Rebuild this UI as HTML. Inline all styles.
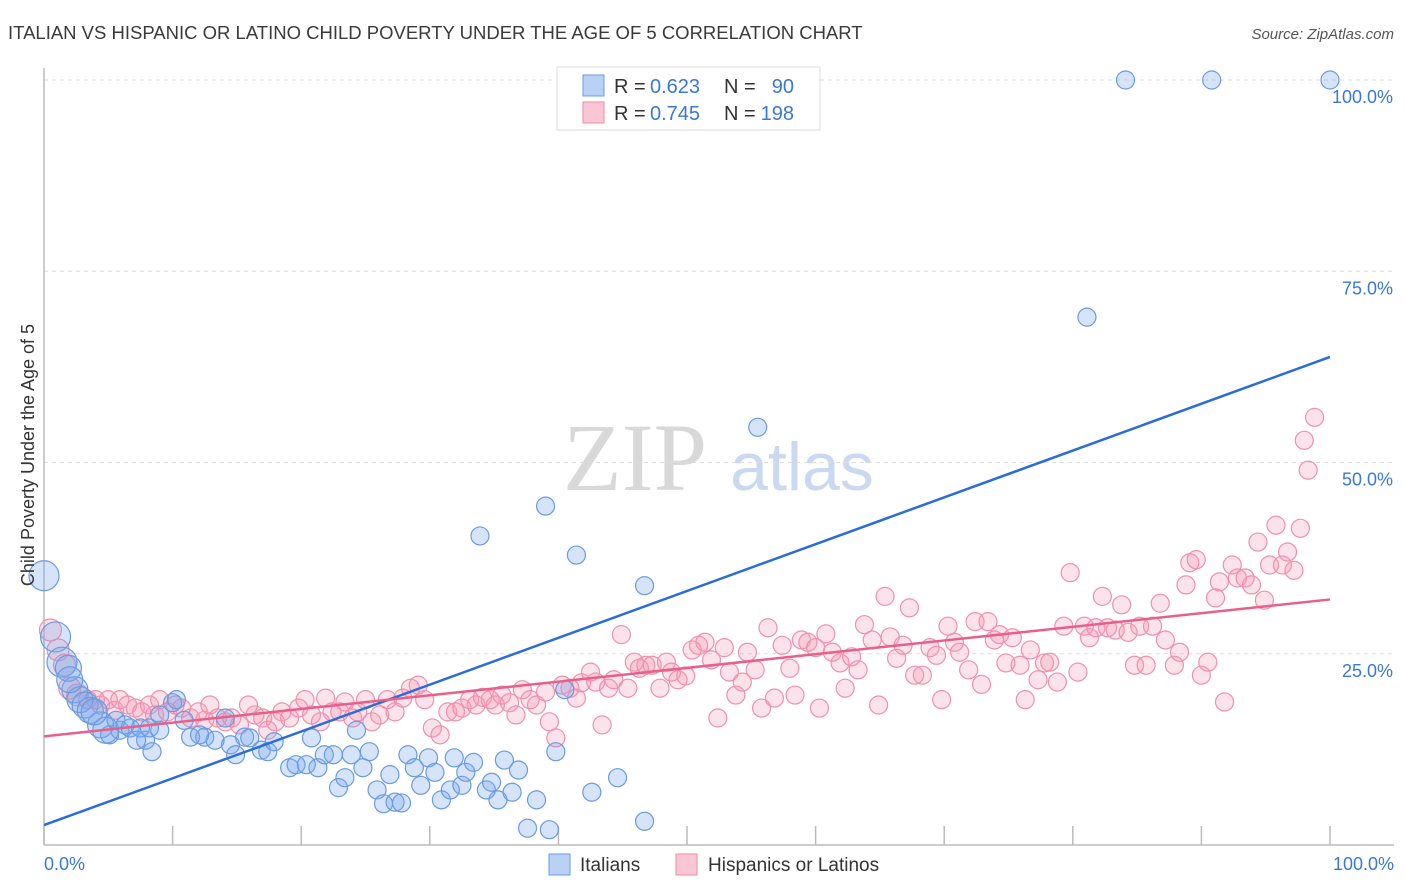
<!DOCTYPE html>
<html><head><meta charset="utf-8"><style>
body{margin:0;background:#fff;font-family:"Liberation Sans",sans-serif}
#c{position:relative;width:1406px;height:892px;overflow:hidden}
</style></head><body>
<div id="c">
<svg id="s" width="1406" height="892">
<text x="8" y="39" font-size="18.5" fill="#3a3a3a">ITALIAN VS HISPANIC OR LATINO CHILD POVERTY UNDER THE AGE OF 5 CORRELATION CHART</text>
<text x="1394" y="39" font-size="15" fill="#555" font-style="italic" text-anchor="end">Source: ZipAtlas.com</text>
<text x="635" y="490" font-size="96" fill="#d8d8d8" font-family="Liberation Serif,serif" text-anchor="middle">ZIP</text>
<text x="802" y="490" font-size="68" fill="#c9d9f2" text-anchor="middle">atlas</text>
<g id="grid"></g><g id="axes"></g><g id="pts"></g><g id="lines"></g>
<text transform="translate(34,455) rotate(-90)" font-size="18" fill="#333" text-anchor="middle">Child Poverty Under the Age of 5</text>
<text x="44" y="870" font-size="18" fill="#3a78d8">0.0%</text>
<text x="1394" y="870" font-size="18" fill="#3a78d8" text-anchor="end">100.0%</text>
<g>
<rect x="557" y="67" width="263" height="63" fill="#fff" stroke="#ddd"/>
<rect x="583" y="75" width="21" height="21" fill="#b9d1f5" stroke="#6a9be0"/>
<rect x="583" y="102" width="21" height="21" fill="#fac6d5" stroke="#f08aaa"/>
<text x="614" y="93" font-size="20" fill="#333">R =</text>
<text x="650" y="93" font-size="20" fill="#3a78d8">0.623</text>
<text x="724" y="93" font-size="20" fill="#333">N =</text>
<text x="794" y="93" font-size="20" fill="#3a78d8" text-anchor="end">90</text>
<text x="614" y="120" font-size="20" fill="#333">R =</text>
<text x="650" y="120" font-size="20" fill="#3a78d8">0.745</text>
<text x="724" y="120" font-size="20" fill="#333">N =</text>
<text x="794" y="120" font-size="20" fill="#3a78d8" text-anchor="end">198</text>
</g>
<g>
<rect x="549" y="854" width="21" height="21" fill="#b9d1f5" stroke="#6a9be0"/>
<text x="580" y="871" font-size="19" fill="#333">Italians</text>
<rect x="676" y="854" width="21" height="21" fill="#fac6d5" stroke="#f08aaa"/>
<text x="708" y="871" font-size="19" fill="#333">Hispanics or Latinos</text>
</g>
</svg></div>
<script>
const yTicks=[25,50,75,100];
const yTickLabels=["25.0%","50.0%","75.0%","100.0%"];
const xTicks=[0,10,20,30,40,50,60,70,80,90,100];
const blueX=[0,0.9,1.4,1.9,2.4,2.8,3.2,3.6,4.4,5.1,5.9,6.7,7.5,7.9,8.4,9.0,10.0,10.3,10.9,11.4,12.5,13.3,14.1,14.5,14.9,15.6,16.0,16.9,17.4,17.9,19.1,19.6,20.4,20.8,21.3,21.8,22.5,22.9,23.4,23.9,24.3,24.8,25.3,25.9,26.4,26.9,27.3,27.8,28.3,28.8,29.3,29.9,30.4,30.9,31.6,31.9,32.5,32.8,33.4,33.9,34.4,34.8,35.3,35.8,36.4,36.9,37.6,38.3,39.0,39.3,39.8,40.5,41.4,42.6,44.6,46.7,46.7,55.5,81.1,84.1,90.8,100,4.8,5.6,6.3,2.0,3.9,12.1,8.2,9.0,7.2];
const blueY=[35.2,27.2,23.9,23.1,20.3,19.0,18.3,17.6,15.7,14.4,15.0,15.3,15.3,13.7,12.2,15.0,18.6,19.0,16.3,14.1,14.1,13.7,16.6,13.1,11.8,14.1,14.0,12.4,12.2,13.5,10.1,10.5,10.5,14.0,10.1,11.8,11.8,7.5,8.8,11.8,15.0,10.1,12.2,7.2,5.4,9.2,5.6,5.5,11.8,10.1,7.8,11.4,9.5,5.9,7.2,11.4,7.8,9.5,10.8,40.4,7.2,8.2,5.9,11.1,6.9,9.8,2.2,5.9,44.3,2.0,12.2,20.3,37.9,6.9,8.8,3.1,33.9,54.6,69.0,100,100,100,15.0,16.3,15.7,21.6,17.4,14.4,15.3,17.0,13.7];
const pinkX=[0.5,1.1,1.6,2.0,2.6,3.4,4.0,4.4,5.0,5.5,5.9,6.5,7.1,7.6,8.2,8.6,9.0,9.6,10.2,10.7,11.4,12.0,12.5,12.9,13.5,14.1,14.6,15.2,15.9,16.4,17.0,17.4,18.0,18.5,19.1,19.8,20.3,20.8,21.5,21.9,22.4,23.0,23.4,24.0,24.4,25.0,25.5,26.1,26.7,27.3,27.9,28.5,29.1,29.6,30.2,30.8,31.4,32.0,32.5,33.1,33.6,34.1,34.7,35.1,35.6,36.2,36.7,37.2,37.8,38.3,39.0,39.3,39.8,40.3,40.9,41.4,41.8,42.5,42.9,43.4,43.9,44.3,44.9,45.4,45.9,46.3,46.8,47.3,47.9,48.4,48.8,49.3,49.9,50.4,50.9,51.4,51.9,52.4,52.9,53.3,53.8,54.3,54.7,55.3,55.8,56.3,56.8,57.4,58.0,58.4,58.9,59.4,60.0,60.3,60.8,61.3,61.9,62.3,62.8,63.3,63.8,64.4,64.9,65.4,65.8,66.3,66.8,67.3,67.7,68.3,68.9,69.4,69.8,70.3,70.8,71.2,71.9,72.4,72.9,73.4,73.9,74.3,74.8,75.3,75.9,76.3,76.7,77.3,77.8,78.2,78.8,79.3,79.8,80.4,80.9,81.3,81.8,82.3,82.7,83.3,83.8,84.3,84.8,85.2,85.7,86.2,86.8,87.2,87.9,88.3,88.8,89.1,89.6,90.0,90.5,91.1,91.4,91.8,92.4,92.8,93.4,93.9,94.4,94.9,95.3,95.8,96.3,96.7,97.2,97.7,98.0,98.3,98.8];
const pinkY=[28.1,25.5,23.5,20.5,19.6,19.0,19.0,18.3,19.0,17.6,19.0,18.3,17.9,17.4,18.3,17.0,19.0,17.4,18.3,17.9,16.6,17.4,16.3,18.3,16.6,16.1,16.6,15.7,18.3,17.0,16.6,15.0,16.1,17.4,16.6,17.9,19.0,17.0,16.1,19.2,17.4,17.4,18.7,16.6,17.4,19.0,16.1,17.0,19.0,17.4,19.2,20.5,20.9,19.0,15.3,14.4,17.4,17.4,17.9,19.0,18.3,19.3,19.0,18.3,19.6,18.6,17.0,20.3,19.0,18.3,20.0,16.1,14.0,20.9,20.5,19.2,21.2,22.6,21.3,15.7,20.5,21.6,27.5,20.5,23.9,23.1,23.5,23.5,20.5,23.9,22.6,21.6,22.1,25.5,26.1,26.5,24.2,16.6,25.8,22.6,19.6,21.3,25.2,22.9,17.9,28.4,19.2,26.1,23.1,19.6,26.8,26.5,25.8,17.9,27.6,25.2,23.8,20.5,24.6,22.9,28.8,26.8,18.3,32.5,27.2,24.4,26.1,31.0,22.2,22.2,25.8,24.8,19.0,28.6,26.5,25.2,22.9,29.2,21.0,29.2,26.8,27.5,23.8,27.1,23.5,19.0,25.5,21.6,23.8,23.9,21.3,28.6,35.6,22.6,28.6,27.1,28.4,32.5,28.4,28.1,31.4,27.8,23.5,28.6,23.5,28.6,31.6,26.8,23.5,25.2,34.0,36.9,37.3,22.2,23.9,32.3,34.4,18.7,36.6,34.9,34.9,34.0,39.6,32.0,36.6,41.8,36.6,38.3,35.9,41.4,52.9,49.0,55.9];
const blueLine=[2.6,63.8];
const pinkLine=[14.2,32.1];
const X0=44,X1=1330,Y0=845,Y100=80;
const xs=v=>X0+(X1-X0)*v/100, ys=v=>Y0-(Y0-Y100)*v/100;
const NS="http://www.w3.org/2000/svg";
function mk(t,a,p){const e=document.createElementNS(NS,t);for(const k in a)e.setAttribute(k,a[k]);p.appendChild(e);return e;}
const grid=document.getElementById('grid'),axes=document.getElementById('axes'),pts=document.getElementById('pts'),lines=document.getElementById('lines');
yTicks.forEach((t,i)=>{
 const l=mk('line',{x1:X0,x2:1394,y1:ys(t),y2:ys(t),stroke:'#ddd','stroke-dasharray':'4,4'},grid);
 
 
 const tx=mk('text',{x:1393,y:ys(t)+23,'font-size':18,fill:'#3a78d8','text-anchor':'end'},grid);
 tx.textContent=yTickLabels[i];
 
 
});
const ya=mk('line',{x1:X0,x2:X0,y1:68,y2:Y0,stroke:'#bbb','stroke-width':1.5},axes);


const xa=mk('line',{x1:X0,x2:1394,y1:Y0,y2:Y0,stroke:'#bbb','stroke-width':1.5},axes);


xTicks.forEach(t=>{
 const l=mk('line',{x1:xs(t),x2:xs(t),y1:826,y2:Y0,stroke:'#bbb','stroke-width':1.5},axes);
 
 
});
pinkX.forEach((x,i)=>{
 const c=mk('circle',{cx:xs(x),cy:ys(pinkY[i]),r:x<3?11:9,fill:'rgba(244,150,178,0.28)',stroke:'#f090ad','stroke-width':1.2},pts);
 
 
});
blueX.forEach((x,i)=>{
 const c=mk('circle',{cx:xs(x),cy:ys(blueY[i]),r:x<1.5?15:(x<5?13:9),fill:'rgba(120,165,235,0.3)',stroke:'#6a9be0','stroke-width':1.2},pts);
 
 
});
const bl=mk('line',{x1:xs(0),y1:ys(blueLine[0]),x2:xs(100),y2:ys(blueLine[1]),stroke:'#2a6dd9','stroke-width':2.5},lines);


const pl=mk('line',{x1:xs(0),y1:ys(pinkLine[0]),x2:xs(100),y2:ys(pinkLine[1]),stroke:'#e8608a','stroke-width':2.5},lines);


</script>
</body></html>
